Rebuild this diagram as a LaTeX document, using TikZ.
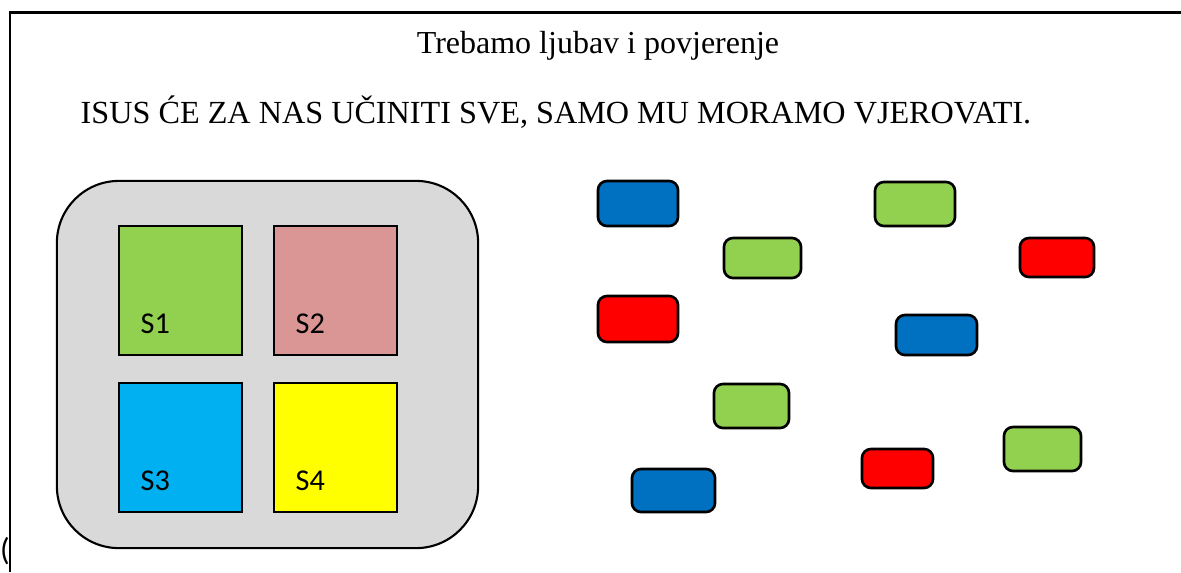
\documentclass[tikz,border=0pt]{standalone}
\usepackage{fontspec}
\setmainfont{Liberation Serif}
\newfontfamily\calib{Carlito}
\definecolor{mygreen}{HTML}{92D050}
\definecolor{myrose}{HTML}{DA9694}
\definecolor{mycyan}{HTML}{00B0F0}
\definecolor{myyellow}{HTML}{FFFF00}
\definecolor{myblue}{HTML}{0070C0}
\definecolor{myred}{HTML}{FF0000}
\definecolor{mygray}{HTML}{D9D9D9}
\tikzset{
  sq/.style={draw=black, line width=0.7pt, minimum width=1.23cm, minimum height=1.29cm, inner sep=0pt, outer sep=0pt},
  lab/.style={font=\calib\fontsize{8.6}{10}\selectfont, anchor=base west, inner sep=0pt},
  tile/.style={draw=black, line width=0.75pt, rounded corners=0.09cm, inner sep=0pt, outer sep=0pt},
}
\begin{document}
\begin{tikzpicture}[x=0.01cm,y=-0.01cm]
\useasboundingbox (0,0) rectangle (1181,572);
% frame
\coordinate (fa) at (10,572);
\coordinate (fb) at (10,12.5);
\coordinate (fc) at (1181,12.5);
\draw[line width=0.6pt] (fa) -- (fb) -- (fc);
\node[font=\calib\fontsize{9}{10}\selectfont, anchor=base, inner sep=0pt] (paren) at (5,560) {(};
% texts
\node[anchor=base, inner sep=0pt, font=\fontsize{9.1}{11}\selectfont] (title) at (598,53) {Trebamo ljubav i povjerenje};
\node[anchor=base west, inner sep=0pt, font=\fontsize{9.16}{11}\selectfont] (line) at (80,123) {ISUS ĆE ZA NAS UČINITI SVE, SAMO MU MORAMO VJEROVATI.};
% gray panel
\node[draw=black, fill=mygray, line width=0.6pt, rounded corners=0.62cm, minimum width=4.21cm, minimum height=3.67cm, inner sep=0pt] (panel) at (267.5,364.5) {};
% squares
\node[sq, fill=mygreen] (s1) at (180.5,290.5) {};
\node[sq, fill=myrose] (s2) at (335.5,290.5) {};
\node[sq, fill=mycyan] (s3) at (180.5,447.5) {};
\node[sq, fill=myyellow] (s4) at (335.5,447.5) {};
\node[lab] (l1) at (140,333) {S1};
\node[lab] (l2) at (295,333) {S2};
\node[lab] (l3) at (140,490) {S3};
\node[lab] (l4) at (295,490) {S4};
% tiles
\node[tile, fill=myblue, minimum width=0.80cm, minimum height=0.45cm] (t1) at (638,203.5) {};
\node[tile, fill=mygreen, minimum width=0.77cm, minimum height=0.40cm] (t2) at (762.5,258) {};
\node[tile, fill=myred, minimum width=0.80cm, minimum height=0.46cm] (t3) at (638,319) {};
\node[tile, fill=mygreen, minimum width=0.80cm, minimum height=0.44cm] (t4) at (915,204) {};
\node[tile, fill=myred, minimum width=0.74cm, minimum height=0.39cm] (t5) at (1057,257.5) {};
\node[tile, fill=myblue, minimum width=0.81cm, minimum height=0.40cm] (t6) at (936.5,335) {};
\node[tile, fill=mygreen, minimum width=0.77cm, minimum height=0.44cm] (t7) at (1042.5,449) {};
\node[tile, fill=myred, minimum width=0.71cm, minimum height=0.39cm] (t8) at (897.5,468.5) {};
\node[tile, fill=mygreen, minimum width=0.75cm, minimum height=0.44cm] (t9) at (751.5,406) {};
\node[tile, fill=myblue, minimum width=0.83cm, minimum height=0.43cm] (t10) at (673.5,490.5) {};
\end{tikzpicture}
\end{document}
